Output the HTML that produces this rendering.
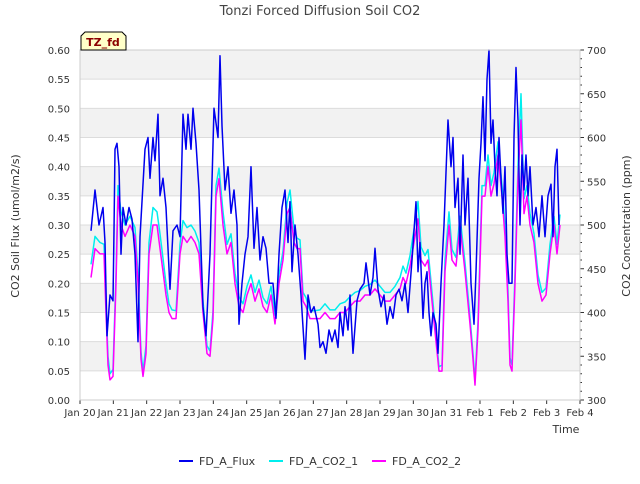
<!DOCTYPE html>
<html><head><meta charset="utf-8"><style>
body{margin:0;background:#fff;font-family:"DejaVu Sans","Liberation Sans",sans-serif}
</style></head><body>
<svg id="chart" width="640" height="480" xmlns="http://www.w3.org/2000/svg" font-family="DejaVu Sans, Liberation Sans, sans-serif">
<g id="bands"></g>
<g id="grid"></g>
<g id="series"></g>
<g id="axes"></g>
<text x="320" y="15" text-anchor="middle" font-size="13" fill="#444">Tonzi Forced Diffusion Soil CO2</text>
<text transform="translate(19,226) rotate(-90)" text-anchor="middle" font-size="11" fill="#333">CO2 Soil Flux (umol/m2/s)</text>
<text transform="translate(630,226) rotate(-90)" text-anchor="middle" font-size="11" fill="#333">CO2 Concentration (ppm)</text>
<text x="566" y="433" text-anchor="middle" font-size="11" fill="#333">Time</text>
<g>
<path d="M81,50 L81,36 L85,32 L122,32 L126,36 L126,50 Z" fill="#ffffc8" stroke="#000" stroke-width="1"/>
<text x="103" y="46" text-anchor="middle" font-size="11" font-weight="bold" fill="#8b0000">TZ_fd</text>
</g>
<g font-size="11" fill="#333">
<g><line x1="179" y1="461" x2="193" y2="461" stroke="#0000ee" stroke-width="2"/><text x="199" y="465">FD_A_Flux</text></g>
<g><line x1="269" y1="461" x2="283" y2="461" stroke="#00eeee" stroke-width="2"/><text x="289" y="465">FD_A_CO2_1</text></g>
<g><line x1="372" y1="461" x2="386" y2="461" stroke="#ff00ff" stroke-width="2"/><text x="392" y="465">FD_A_CO2_2</text></g>
</g>
</svg>
<script>
const xTickLabels=["Jan 20","Jan 21","Jan 22","Jan 23","Jan 24","Jan 25","Jan 26","Jan 27","Jan 28","Jan 29","Jan 30","Jan 31","Feb 1","Feb 2","Feb 3","Feb 4"];
const yTickLabels=["0.00","0.05","0.10","0.15","0.20","0.25","0.30","0.35","0.40","0.45","0.50","0.55","0.60"];
const y2TickLabels=["300","350","400","450","500","550","600","650","700"];
const fluxDays=[.33,.45,.57,.69,.75,.81,.90,.99,1.02,1.05,1.11,1.17,1.23,1.29,1.38,1.47,1.56,1.65,1.74,1.80,1.95,2.04,2.10,2.19,2.25,2.34,2.40,2.49,2.58,2.70,2.79,2.91,3.00,3.09,3.18,3.24,3.33,3.39,3.48,3.57,3.69,3.78,3.90,4.02,4.14,4.20,4.26,4.35,4.44,4.53,4.62,4.71,4.77,4.86,4.95,5.04,5.13,5.22,5.31,5.40,5.49,5.58,5.67,5.79,5.88,5.97,6.06,6.15,6.24,6.30,6.36,6.45,6.54,6.63,6.75,6.84,6.93,7.02,7.14,7.20,7.29,7.38,7.47,7.56,7.65,7.74,7.80,7.89,7.95,8.04,8.10,8.19,8.31,8.40,8.52,8.58,8.70,8.79,8.85,8.94,9.03,9.12,9.21,9.30,9.39,9.48,9.57,9.66,9.75,9.84,9.96,10.02,10.08,10.14,10.20,10.29,10.35,10.41,10.47,10.53,10.59,10.68,10.74,10.83,10.92,11.04,11.13,11.19,11.25,11.34,11.40,11.49,11.55,11.64,11.73,11.82,11.88,11.97,12.03,12.09,12.15,12.21,12.27,12.33,12.39,12.45,12.51,12.57,12.63,12.69,12.75,12.81,12.87,12.96,13.02,13.08,13.14,13.20,13.26,13.32,13.38,13.44,13.50,13.59,13.68,13.77,13.86,13.95,14.04,14.13,14.19,14.25,14.31,14.37];
const fluxValues=[.29,.36,.30,.33,.27,.11,.18,.17,.29,.43,.44,.40,.25,.33,.30,.33,.31,.25,.10,.28,.43,.45,.38,.45,.41,.49,.35,.38,.33,.19,.29,.30,.28,.49,.43,.49,.43,.50,.44,.36,.16,.11,.25,.50,.45,.59,.47,.36,.40,.32,.36,.30,.13,.20,.25,.28,.40,.26,.33,.24,.28,.26,.20,.20,.14,.25,.33,.36,.27,.34,.22,.30,.25,.18,.07,.18,.15,.16,.13,.09,.10,.08,.12,.10,.12,.09,.15,.11,.16,.12,.18,.08,.17,.19,.20,.235,.18,.21,.26,.19,.16,.18,.13,.16,.14,.18,.19,.17,.20,.15,.24,.29,.34,.22,.27,.14,.20,.22,.15,.11,.15,.13,.08,.20,.30,.48,.40,.45,.33,.38,.25,.42,.30,.38,.20,.13,.22,.38,.44,.52,.41,.55,.60,.44,.48,.40,.35,.45,.38,.32,.40,.25,.20,.20,.45,.57,.48,.30,.42,.36,.42,.35,.40,.30,.33,.28,.35,.28,.35,.37,.28,.40,.43,.30];
const co2Days=[.33,.45,.60,.72,.78,.84,.90,.99,1.08,1.14,1.23,1.35,1.50,1.65,1.74,1.83,1.89,1.98,2.07,2.19,2.31,2.40,2.49,2.58,2.67,2.76,2.88,3.00,3.09,3.21,3.33,3.45,3.57,3.69,3.81,3.90,3.99,4.08,4.17,4.29,4.41,4.53,4.65,4.77,4.89,5.01,5.13,5.25,5.37,5.49,5.61,5.73,5.85,5.97,6.09,6.21,6.30,6.42,6.51,6.60,6.69,6.78,6.90,7.05,7.20,7.35,7.50,7.65,7.80,7.95,8.10,8.25,8.40,8.55,8.70,8.85,9.00,9.15,9.30,9.45,9.60,9.69,9.78,9.90,10.02,10.14,10.23,10.35,10.44,10.56,10.68,10.77,10.86,10.95,11.07,11.16,11.28,11.40,11.55,11.70,11.79,11.85,11.94,12.06,12.15,12.24,12.33,12.42,12.54,12.66,12.75,12.84,12.90,12.96,13.05,13.14,13.23,13.32,13.41,13.50,13.62,13.74,13.86,13.98,14.10,14.22,14.31,14.40];
const co2_2Values=[440,473,467,467,400,340,323,327,433,533,500,487,500,487,433,347,327,353,467,500,500,473,447,420,400,393,393,467,487,480,487,480,467,400,353,350,393,533,553,500,467,480,433,407,400,420,433,413,427,407,400,420,387,433,460,513,520,480,473,473,413,407,393,393,393,400,393,393,400,400,407,413,413,420,420,427,420,413,413,420,427,440,433,453,480,507,460,453,460,413,367,333,333,447,500,460,453,500,447,387,347,317,380,533,533,567,533,547,580,533,487,413,340,333,433,553,620,513,533,500,480,433,413,420,467,500,467,500];
const co2_1Values=[455,487,480,478,412,350,330,335,445,545,515,500,510,497,445,355,333,362,480,520,515,490,462,433,410,403,402,478,505,497,500,493,480,413,362,356,402,545,565,515,478,490,445,418,410,430,443,423,437,417,410,430,397,443,470,525,540,495,485,483,423,417,402,402,403,410,403,403,410,412,418,423,425,430,432,437,430,423,423,430,440,453,445,465,495,527,475,465,472,423,375,338,340,460,515,472,463,510,457,395,353,322,390,545,545,580,545,560,595,545,500,425,348,340,445,568,650,530,545,513,490,443,423,428,478,510,478,512];

const NS='http://www.w3.org/2000/svg';
const L=80,R=580,T=50,B=400;
const xS=d=>L+(d/15)*(R-L);
const yS=v=>B-(v/0.6)*(B-T);
const y2S=p=>B-((p-300)/400)*(B-T);
function mk(tag,attrs,parent){const e=document.createElementNS(NS,tag);for(const k in attrs)e.setAttribute(k,attrs[k]);parent.appendChild(e);return e;}
const bands=document.getElementById('bands'),grid=document.getElementById('grid'),axes=document.getElementById('axes'),series=document.getElementById('series');
for(let i=0;i<yTickLabels.length-1;i++){
  if(i%2===1){const r=mk('rect',{x:L,y:yS(+yTickLabels[i+1]),width:R-L,height:yS(+yTickLabels[i])-yS(+yTickLabels[i+1]),fill:'#f2f2f2'},bands);
  
  }
}
yTickLabels.forEach(t=>{const y=yS(+t);
  const g=mk('line',{x1:L,x2:R,y1:y,y2:y,stroke:'#dcdcdc','stroke-width':1},grid);
  
  
  const tx=mk('text',{x:L-10,y:y+4,'text-anchor':'end','font-size':10,fill:'#333'},axes);tx.textContent=t;
  
  
});
y2TickLabels.forEach(t=>{const y=y2S(+t);
  mk('line',{x1:R,x2:R+4,y1:y,y2:y,stroke:'#333'},axes);
  const tx=mk('text',{x:R+7,y:y+4,'font-size':10,fill:'#333'},axes);tx.textContent=t;
  
  
});
for(let p=310;p<700;p+=10){if(p%50)mk('line',{x1:R,x2:R+2,y1:y2S(p),y2:y2S(p),stroke:'#333'},axes);}
xTickLabels.forEach((t,i)=>{const x=xS(i);
  mk('line',{x1:x,x2:x,y1:B,y2:B+4,stroke:'#333'},axes);
  const tx=mk('text',{x:x,y:B+16,'text-anchor':'middle','font-size':10,fill:'#333'},axes);tx.textContent=t;
  
  
});
mk('rect',{x:L,y:T,width:R-L,height:B-T,fill:'none',stroke:'#ccc'},axes);
function line(days,vals,sc,color,name,w){
  const d=days.map((t,i)=>(i?'L':'M')+xS(t).toFixed(1)+','+sc(vals[i]).toFixed(1)).join('');
  const p=mk('path',{d:d,fill:'none',stroke:color,'stroke-width':w,'stroke-linejoin':'round'},series);
  
  
}
line(co2Days,co2_1Values,y2S,'#00eeee','fd-a-co2-1-line',1.5);
line(co2Days,co2_2Values,y2S,'#ff00ff','fd-a-co2-2-line',1.5);
line(fluxDays,fluxValues,yS,'#0000ee','fd-a-flux-line',1.5);
</script>
</body></html>
